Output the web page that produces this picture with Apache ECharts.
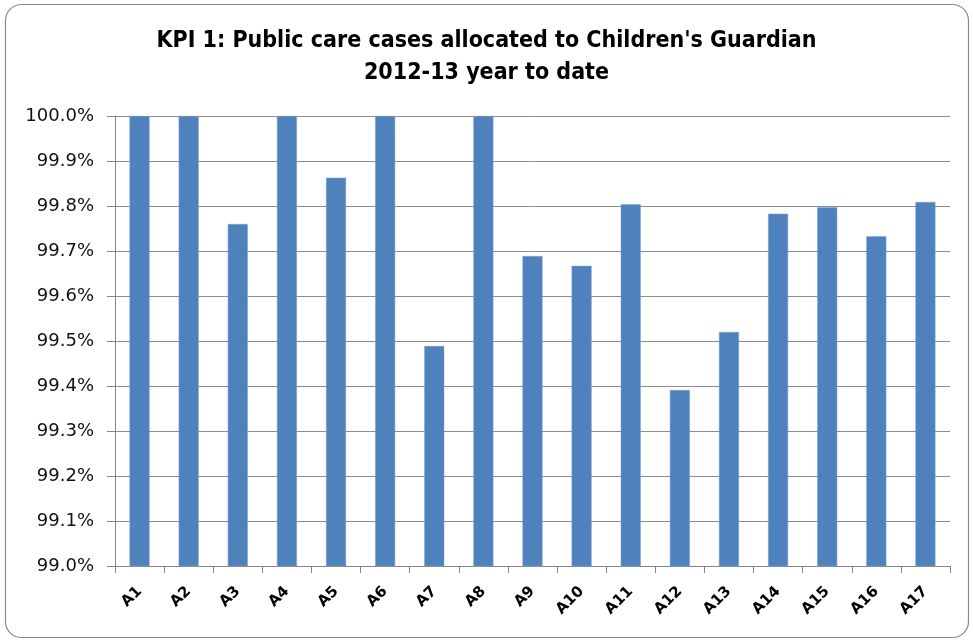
<!DOCTYPE html>
<html>
<head>
<meta charset="utf-8">
<script src="https://cdn.jsdelivr.net/npm/echarts@6/dist/echarts.min.js"></script>
<style>
  html, body { margin: 0; padding: 0; background: #fff; }
  #chart { width: 973px; height: 641px; }
</style>
</head>
<body>
<div id="chart"></div>
<script>
  // areas along the x axis
  const categories = ['A1', 'A2', 'A3', 'A4', 'A5', 'A6', 'A7', 'A8', 'A9', 'A10', 'A11', 'A12', 'A13', 'A14', 'A15', 'A16', 'A17']
  // % of public care cases allocated
  const allocated = [100.0, 100.0, 99.76, 100.0, 99.863, 100.0, 99.489, 100.0, 99.689, 99.667, 99.804, 99.391, 99.52, 99.783, 99.797, 99.733, 99.809]
  const yMin = 99.0
  const yMax = 100.0
  const yStep = 0.1

  let myChart = echarts.init(document.getElementById('chart'))
  myChart.setOption({
    animation: false,
    backgroundColor: '#fff',
    graphic: [{
      type: 'rect',
      shape: { x: 5.5, y: 4.5, width: 963, height: 633, r: 16 },
      style: { fill: 'none', stroke: '#8a8a8a', lineWidth: 1.2 },
      silent: true
    }],
    title: {
      text: "KPI 1: Public care cases allocated to Children's Guardian\n2012-13 year to date",
      left: 'center',
      top: 20,
      textStyle: {
        fontFamily: 'DejaVu Sans Condensed, Liberation Sans',
        fontWeight: 'bold',
        fontSize: 23,
        lineHeight: 32,
        color: '#000'
      }
    },
    grid: {
      left: 115,
      right: 23,
      top: 116,
      bottom: 75
    },
    xAxis: {
      type: 'category',
      data: categories,
      axisLine: { lineStyle: { color: '#868686', width: 1 } },
      axisTick: { show: true, length: 7, lineStyle: { color: '#868686' } },
      axisLabel: {
        rotate: 45,
        margin: 23,
        fontFamily: 'DejaVu Sans',
        fontWeight: 'bold',
        fontSize: 15,
        color: '#000'
      },
      splitLine: { show: false }
    },
    yAxis: {
      type: 'value',
      min: yMin,
      max: yMax,
      interval: yStep,
      axisLine: { show: true, lineStyle: { color: '#868686', width: 1 } },
      axisTick: { show: true, length: 8, lineStyle: { color: '#868686' } },
      axisLabel: {
        margin: 21,
        fontFamily: 'DejaVu Sans',
        fontSize: 18,
        color: '#111',
        formatter: function(v) {
          return v.toFixed(1) + '%'
        }
      },
      splitLine: { show: true, lineStyle: { color: '#8c8c8c', width: 1 } }
    },
    series: [{
      type: 'bar',
      data: allocated,
      barWidth: 20,
      itemStyle: {
        color: '#4f81bd',
        borderColor: '#7ea3cf',
        borderWidth: 0.5
      }
    }]
  })
</script>
</body>
</html>
